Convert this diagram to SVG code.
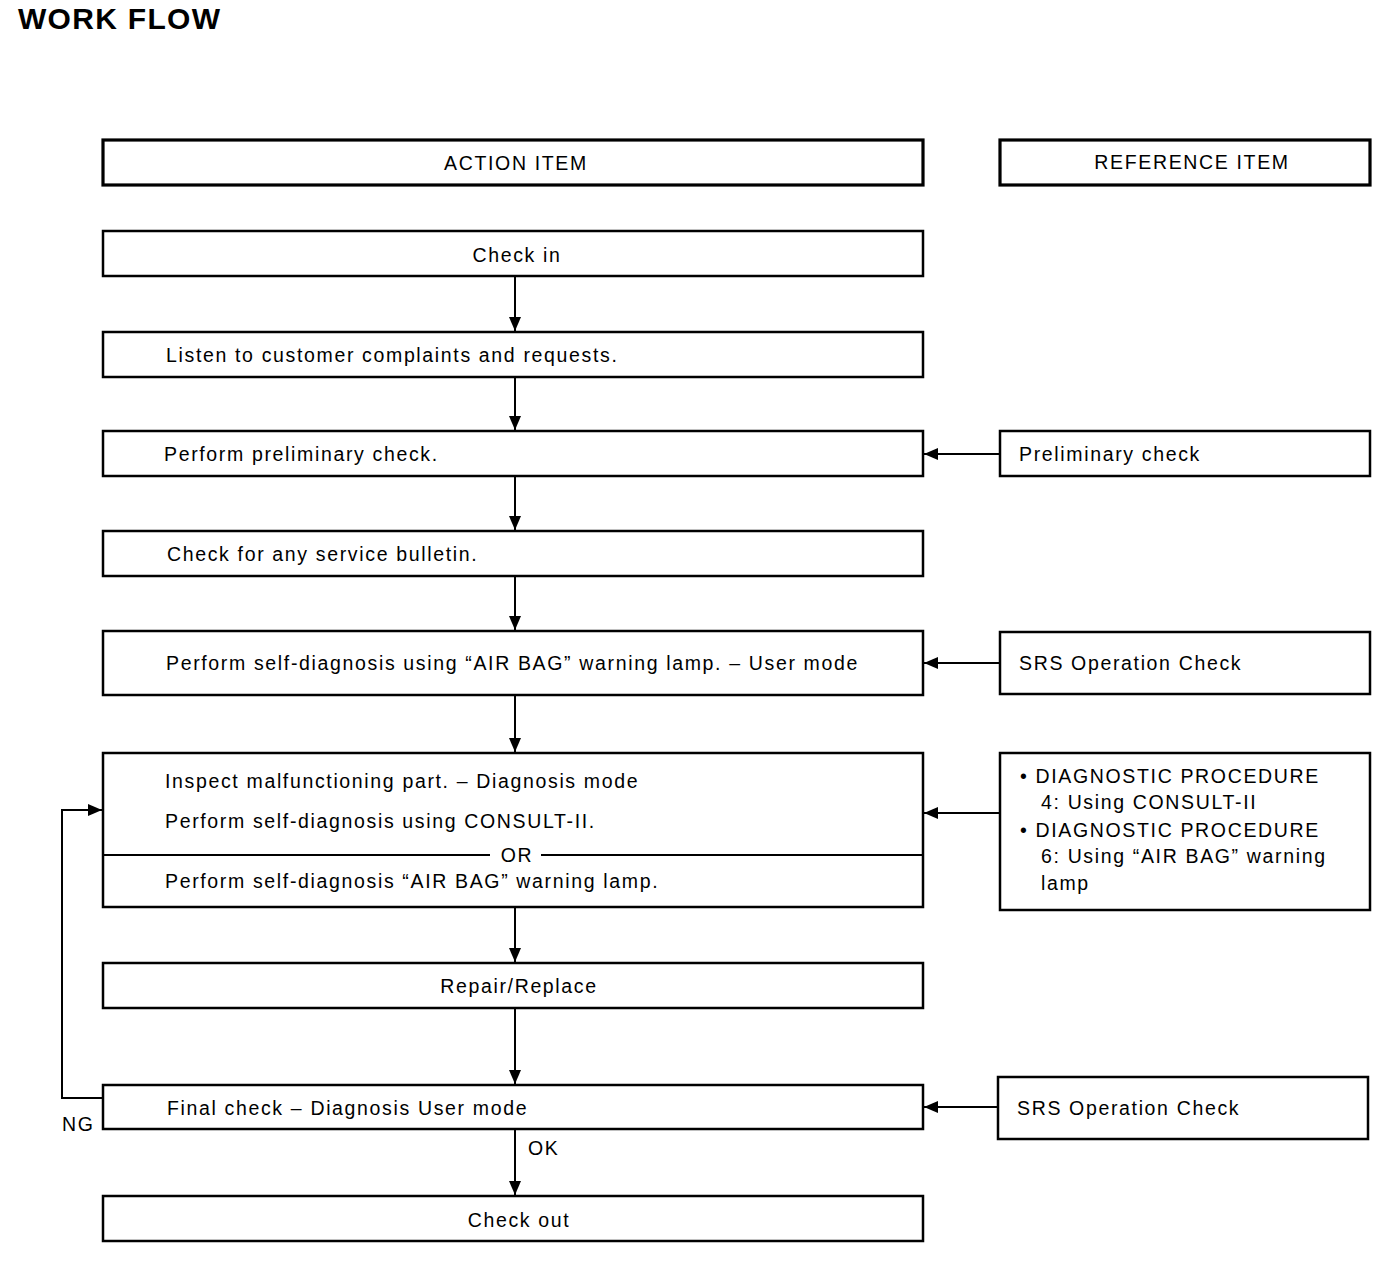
<svg xmlns="http://www.w3.org/2000/svg" width="1392" height="1262" viewBox="0 0 1392 1262">
<style>
.t{font-family:"Liberation Sans",Arial,sans-serif;font-size:19.5px;letter-spacing:1.65px;fill:#000}
.c{text-anchor:middle}
.b{fill:#fff;stroke:#000;stroke-width:2.5}
.h{fill:#fff;stroke:#000;stroke-width:3.2}
.l{fill:none;stroke:#000;stroke-width:2}
</style>
<defs>
<marker id="arL" viewBox="0 0 14 12" refX="14" refY="6" markerWidth="14" markerHeight="12" markerUnits="userSpaceOnUse" orient="auto">
<path d="M0,0 L14,6 L0,12 z" fill="#000"/>
</marker>
</defs>
<rect width="1392" height="1262" fill="#fff"/>
<text x="18" y="29" font-family="'Liberation Sans',Arial,sans-serif" font-weight="bold" font-size="30" letter-spacing="1.3">WORK FLOW</text>

<g id="action-header"><rect class="h" x="103" y="140" width="820" height="45"/><text class="t c" x="516" y="170">ACTION ITEM</text></g>
<g id="reference-header"><rect class="h" x="1000" y="140" width="370" height="45"/><text class="t c" x="1192" y="169">REFERENCE ITEM</text></g>

<g id="check-in"><rect class="b" x="103" y="231" width="820" height="45"/><text class="t c" x="517" y="262">Check in</text></g>
<g id="listen"><rect class="b" x="103" y="332" width="820" height="45"/><text class="t" x="166" y="362">Listen to customer complaints and requests.</text></g>
<g id="preliminary"><rect class="b" x="103" y="431" width="820" height="45"/><text class="t" x="164" y="461">Perform preliminary check.</text></g>
<g id="bulletin"><rect class="b" x="103" y="531" width="820" height="45"/><text class="t" x="167" y="561">Check for any service bulletin.</text></g>
<g id="self-diag-user"><rect class="b" x="103" y="631" width="820" height="64"/><text class="t" x="166" y="670">Perform self-diagnosis using “AIR BAG” warning lamp. – User mode</text></g>
<g id="inspect">
<rect class="b" x="103" y="753" width="820" height="154"/>
<text class="t" x="165" y="788">Inspect malfunctioning part. – Diagnosis mode</text>
<text class="t" x="165" y="828">Perform self-diagnosis using CONSULT-II.</text>
<line class="l" x1="103" y1="855" x2="490" y2="855"/>
<line class="l" x1="541" y1="855" x2="923" y2="855"/>
<text class="t c" x="517" y="862">OR</text>
<text class="t" x="165" y="888">Perform self-diagnosis “AIR BAG” warning lamp.</text>
</g>
<g id="repair"><rect class="b" x="103" y="963" width="820" height="45"/><text class="t c" x="519" y="993">Repair/Replace</text></g>
<g id="final-check"><rect class="b" x="103" y="1085" width="820" height="44"/><text class="t" x="167" y="1115">Final check – Diagnosis User mode</text></g>
<g id="check-out"><rect class="b" x="103" y="1196" width="820" height="45"/><text class="t c" x="519" y="1227">Check out</text></g>

<g id="ref-preliminary"><rect class="b" x="1000" y="431" width="370" height="45"/><text class="t" x="1019" y="461">Preliminary check</text></g>
<g id="ref-srs1"><rect class="b" x="1000" y="632" width="370" height="62"/><text class="t" x="1019" y="670">SRS Operation Check</text></g>
<g id="ref-diag">
<rect class="b" x="1000" y="753" width="370" height="157"/>
<text class="t" x="1020" y="783">• DIAGNOSTIC PROCEDURE</text>
<text class="t" x="1041" y="809">4: Using CONSULT-II</text>
<text class="t" x="1020" y="837">• DIAGNOSTIC PROCEDURE</text>
<text class="t" x="1041" y="863">6: Using “AIR BAG” warning</text>
<text class="t" x="1041" y="890">lamp</text>
</g>
<g id="ref-srs2"><rect class="b" x="998" y="1077" width="370" height="62"/><text class="t" x="1017" y="1115">SRS Operation Check</text></g>

<g id="connectors">
<line class="l" x1="515" y1="277" x2="515" y2="331" marker-end="url(#arL)"/>
<line class="l" x1="515" y1="378" x2="515" y2="430" marker-end="url(#arL)"/>
<line class="l" x1="515" y1="477" x2="515" y2="530" marker-end="url(#arL)"/>
<line class="l" x1="515" y1="577" x2="515" y2="630" marker-end="url(#arL)"/>
<line class="l" x1="515" y1="696" x2="515" y2="752" marker-end="url(#arL)"/>
<line class="l" x1="515" y1="908" x2="515" y2="962" marker-end="url(#arL)"/>
<line class="l" x1="515" y1="1009" x2="515" y2="1084" marker-end="url(#arL)"/>
<line class="l" x1="515" y1="1130" x2="515" y2="1195" marker-end="url(#arL)"/>
<text class="t" x="528" y="1155">OK</text>
<line class="l" x1="1000" y1="454" x2="924" y2="454" marker-end="url(#arL)"/>
<line class="l" x1="1000" y1="663" x2="924" y2="663" marker-end="url(#arL)"/>
<line class="l" x1="1000" y1="813" x2="924" y2="813" stroke-width="3" marker-end="url(#arL)"/>
<line class="l" x1="998" y1="1107" x2="924" y2="1107" marker-end="url(#arL)"/>
<polyline class="l" points="103,1098 62,1098 62,810 102,810" marker-end="url(#arL)"/>
<text class="t" x="62" y="1131">NG</text>
</g>
</svg>
